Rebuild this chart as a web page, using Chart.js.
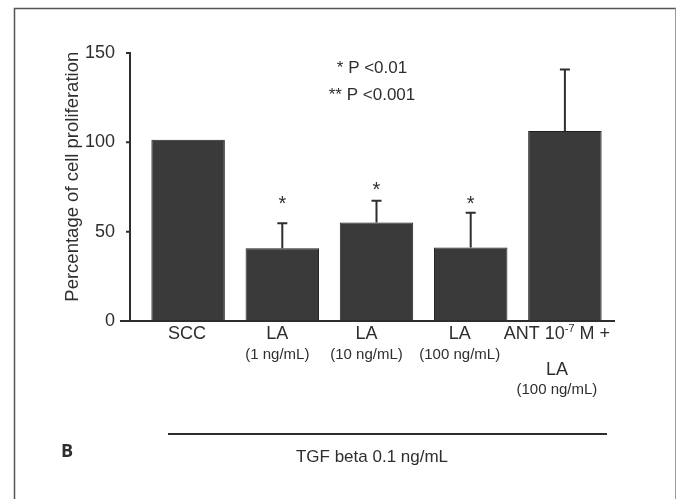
<!DOCTYPE html>
<html>
<head>
<meta charset="utf-8">
<script src="https://cdn.jsdelivr.net/npm/chart.js@4/dist/chart.umd.min.js"></script>
<style>
html, body { margin: 0; padding: 0; background: #fff; }
#wrap { width: 676px; height: 499px; }
</style>
</head>
<body>
<div id="wrap"><canvas id="grafico" width="676" height="499"></canvas></div>
<script>
// dados
const categorias = ["SCC", "LA 1", "LA 10", "LA 100", "ANT + LA 100"];
const medias = [101.5, 40.7, 55.2, 41.2, 106.3];
const erros = [0, 14.0, 12.1, 19.4, 34.5];
const asteriscos = ["", "*", "*", "*", ""];
const nivelAsterisco = [null, 67.3, 75.2, 67.3, null];
const yTicks = [0, 50, 100, 150];

// rótulos do eixo x (linha principal + linhas de baixo)
const rotuloPrincipal = ["SCC", "LA", "LA", "LA", "ANT 10"];
const rotuloSobrescrito = ["", "", "", "", "-7"];
const rotuloFim = ["", "", "", "", " M +"];
const rotuloLinhas = [[], ["(1 ng/mL)"], ["(10 ng/mL)"], ["(100 ng/mL)"], ["LA", "(100 ng/mL)"]];

const legendaP = ["* P <0.01", "** P <0.001"];
const tituloY = "Percentage of cell proliferation";
const tituloGrupo = "TGF beta 0.1 ng/mL";
const letraPainel = "B";

const FONTE = "'Liberation Sans', Arial, sans-serif";
const COR = "#2e2e2e";

const desenhos = {
    id: "desenhos",
    afterDatasetsDraw(chart) {
        const ctx = chart.ctx;
        const y = chart.scales.y;
        const area = chart.chartArea;
        const meta = chart.getDatasetMeta(0);
        ctx.save();
        ctx.strokeStyle = COR;
        ctx.fillStyle = COR;

        // barras de erro
        meta.data.forEach((bar, i) => {
            if (!erros[i]) return;
            const yTop = y.getPixelForValue(medias[i] + erros[i]);
            ctx.lineWidth = 2;
            ctx.beginPath();
            ctx.moveTo(bar.x, bar.y);
            ctx.lineTo(bar.x, yTop);
            ctx.moveTo(bar.x - 5, yTop);
            ctx.lineTo(bar.x + 5, yTop);
            ctx.stroke();
        });

        // asteriscos
        ctx.font = "20px " + FONTE;
        ctx.textAlign = "center";
        ctx.textBaseline = "middle";
        meta.data.forEach((bar, i) => {
            if (!asteriscos[i]) return;
            ctx.fillText(asteriscos[i], bar.x, y.getPixelForValue(nivelAsterisco[i]) + 4);
        });

        // eixos
        const y0 = y.getPixelForValue(0);
        const eixoX = area.left - 11;
        ctx.lineWidth = 2;
        ctx.beginPath();
        ctx.moveTo(eixoX, y.getPixelForValue(yTicks[yTicks.length - 1]) - 1);
        ctx.lineTo(eixoX, y0);
        y.ticks.forEach(t => {
            const py = y.getPixelForValue(t.value);
            ctx.moveTo(eixoX - 4, py);
            ctx.lineTo(eixoX, py);
        });
        ctx.moveTo(eixoX - 10, y0);
        ctx.lineTo(area.right + 3, y0);
        ctx.stroke();

        // rótulos do eixo x
        const desvio = [-1, -5, -10, -11, -8];
        meta.data.forEach((bar, i) => {
            const cx = bar.x + desvio[i];
            ctx.textBaseline = "middle";
            ctx.font = "18px " + FONTE;
            const w1 = ctx.measureText(rotuloPrincipal[i]).width;
            ctx.font = "11px " + FONTE;
            const w2 = ctx.measureText(rotuloSobrescrito[i]).width;
            ctx.font = "18px " + FONTE;
            const w3 = ctx.measureText(rotuloFim[i]).width;
            let px = cx - (w1 + w2 + w3) / 2;
            ctx.textAlign = "left";
            ctx.fillText(rotuloPrincipal[i], px, y0 + 13);
            px += w1;
            if (rotuloSobrescrito[i]) {
                ctx.font = "11px " + FONTE;
                ctx.fillText(rotuloSobrescrito[i], px, y0 + 8);
                px += w2;
                ctx.font = "18px " + FONTE;
            }
            if (rotuloFim[i]) ctx.fillText(rotuloFim[i], px, y0 + 13);

            ctx.textAlign = "center";
            let ly = y0 + 34;
            rotuloLinhas[i].forEach(txt => {
                if (txt.startsWith("(")) {
                    ctx.font = "15px " + FONTE;
                    ctx.fillText(txt, cx, ly);
                    ly += 20;
                } else {
                    ctx.font = "18px " + FONTE;
                    ctx.fillText(txt, cx, ly + 15);
                    ly += 35;
                }
            });
        });

        // legenda dos valores de P
        ctx.font = "17px " + FONTE;
        ctx.textAlign = "center";
        ctx.fillText(legendaP[0], 372, 68);
        ctx.fillText(legendaP[1], 372, 95);

        // linha do grupo TGF
        ctx.lineWidth = 2;
        ctx.beginPath();
        ctx.moveTo(168, 434);
        ctx.lineTo(607, 434);
        ctx.stroke();
        ctx.fillText(tituloGrupo, 372, 457);

        // letra do painel
        ctx.font = "bold 18px 'Open Sans', sans-serif";
        ctx.textAlign = "left";
        ctx.fillText(letraPainel, 61, 452);

        // moldura
        ctx.lineWidth = 1.5;
        ctx.strokeStyle = "#555";
        ctx.beginPath();
        ctx.moveTo(14.5, 499);
        ctx.lineTo(14.5, 8.5);
        ctx.lineTo(676, 8.5);
        ctx.stroke();
        ctx.strokeStyle = "#999";
        ctx.lineWidth = 1;
        ctx.beginPath();
        ctx.moveTo(675.5, 8.5);
        ctx.lineTo(675.5, 499);
        ctx.stroke();
        ctx.restore();
    }
};

new Chart(document.getElementById("grafico"), {
    type: "bar",
    data: {
        labels: categorias,
        datasets: [{
            data: medias,
            backgroundColor: "#3a3a3a",
            borderColor: "#1f1f1f",
            borderWidth: 1,
            barPercentage: 0.78,
            categoryPercentage: 1
        }]
    },
    options: {
        responsive: false,
        animation: false,
        layout: { padding: { left: 14, top: 53, right: 64, bottom: 0 } },
        plugins: { legend: { display: false }, tooltip: { enabled: false } },
        scales: {
            x: {
                grid: { display: false, drawTicks: false },
                border: { display: false },
                ticks: { display: false },
                afterFit: s => { s.height = 178; }
            },
            y: {
                min: 0,
                max: 150,
                grid: { display: false, drawTicks: false },
                border: { display: false },
                afterBuildTicks: s => { s.ticks = yTicks.map(v => ({ value: v })); },
                ticks: { color: COR, padding: 26, font: { family: FONTE, size: 18 } },
                title: {
                    display: true,
                    text: "    " + tituloY,
                    color: COR,
                    padding: { top: 48, bottom: 0 },
                    font: { family: FONTE, size: 18.5 }
                },
                afterFit: s => { s.width = 127; }
            }
        }
    },
    plugins: [desenhos]
});
</script>
</body>
</html>
